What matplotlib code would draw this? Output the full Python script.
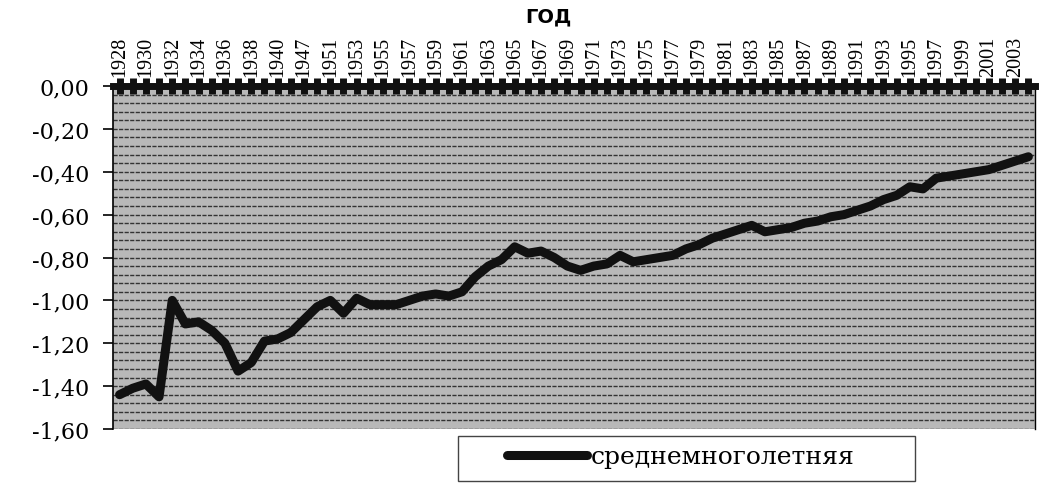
import numpy as np
import matplotlib.pyplot as plt
from matplotlib.patches import Rectangle
from matplotlib.ticker import MultipleLocator, FuncFormatter

# годы: 1928-1940, затем 1946, 1947, 1950, 1951-2004
years = list(range(1928, 1941)) + [1946, 1947, 1950] + list(range(1951, 2005))
values = [-1.44, -1.41, -1.39, -1.45, -1.00, -1.11, -1.10, -1.14, -1.20, -1.33,
          -1.29, -1.19, -1.18, -1.15, -1.09, -1.03, -1.00, -1.06, -0.99, -1.02,
          -1.02, -1.02, -1.00, -0.98, -0.97, -0.98, -0.96, -0.89, -0.84, -0.81,
          -0.75, -0.78, -0.77, -0.80, -0.84, -0.86, -0.84, -0.83, -0.79, -0.82,
          -0.81, -0.80, -0.79, -0.76, -0.74, -0.71, -0.69, -0.67, -0.65, -0.68,
          -0.67, -0.66, -0.64, -0.63, -0.61, -0.60, -0.58, -0.56, -0.53, -0.51,
          -0.47, -0.48, -0.43, -0.42, -0.41, -0.40, -0.39, -0.37, -0.35, -0.33]
series_name = 'среднемноголетняя'

fig = plt.figure(figsize=(10.43, 4.85), dpi=100)
ax = fig.add_axes([0.1083, 0.1134, 0.884, 0.7072])
ax.set_facecolor('#b8b8b8')

x = np.arange(len(years))
ax.set_ylim(-1.6, 0)
ax.set_xlim(-0.5, len(years) - 0.5)

# плотная сетка
ax.yaxis.set_major_locator(MultipleLocator(0.2))
ax.yaxis.set_minor_locator(MultipleLocator(0.04))
ax.grid(which='both', axis='y', color='#333333', linewidth=1.0, linestyle=(0, (3, 1)))
ax.set_axisbelow(True)

line, = ax.plot(x, values, color='#111111', linewidth=6.5, solid_capstyle='round',
                solid_joinstyle='round', label=series_name, zorder=3)

# ось категорий сверху
ax.xaxis.tick_top()
ax.set_xticks(x)
ax.set_xticklabels([str(y) if i % 2 == 0 else '' for i, y in enumerate(years)],
                   rotation=90, fontsize=14.5, family='Liberation Serif')
ax.tick_params(axis='x', which='major', direction='inout', length=12, width=5,
               color='#111111', pad=1)
ax.spines['top'].set_linewidth(5)
ax.spines['top'].set_color('#111111')
ax.spines['bottom'].set_visible(False)
ax.spines['left'].set_linewidth(1.2)
ax.spines['right'].set_linewidth(1.0)

ax.yaxis.set_major_formatter(FuncFormatter(lambda v, p: ('%.2f' % v).replace('.', ',')))
ax.tick_params(axis='y', which='major', direction='out', length=7, width=1.2,
               labelsize=16, pad=10)
ax.tick_params(axis='y', which='minor', length=0)
for lab in ax.get_yticklabels():
    lab.set_family('DejaVu Serif')

fig.text(0.526, 0.965, 'ГОД', ha='center', va='center', fontsize=14,
         fontweight='bold', family='DejaVu Sans')

# рамка легенды
fig.patches.append(Rectangle((458 / 1043, 3 / 485), 457 / 1043, 45 / 485,
                             transform=fig.transFigure, facecolor='white',
                             edgecolor='#444444', linewidth=1.0))
leg = fig.legend(handles=[line], loc='center left', bbox_to_anchor=(507 / 1043, 27 / 485),
                 prop={'family': 'DejaVu Serif', 'size': 18}, frameon=False,
                 handlelength=3.2, handletextpad=0.15, borderpad=0, borderaxespad=0)

fig.savefig('out.png', dpi=100)
